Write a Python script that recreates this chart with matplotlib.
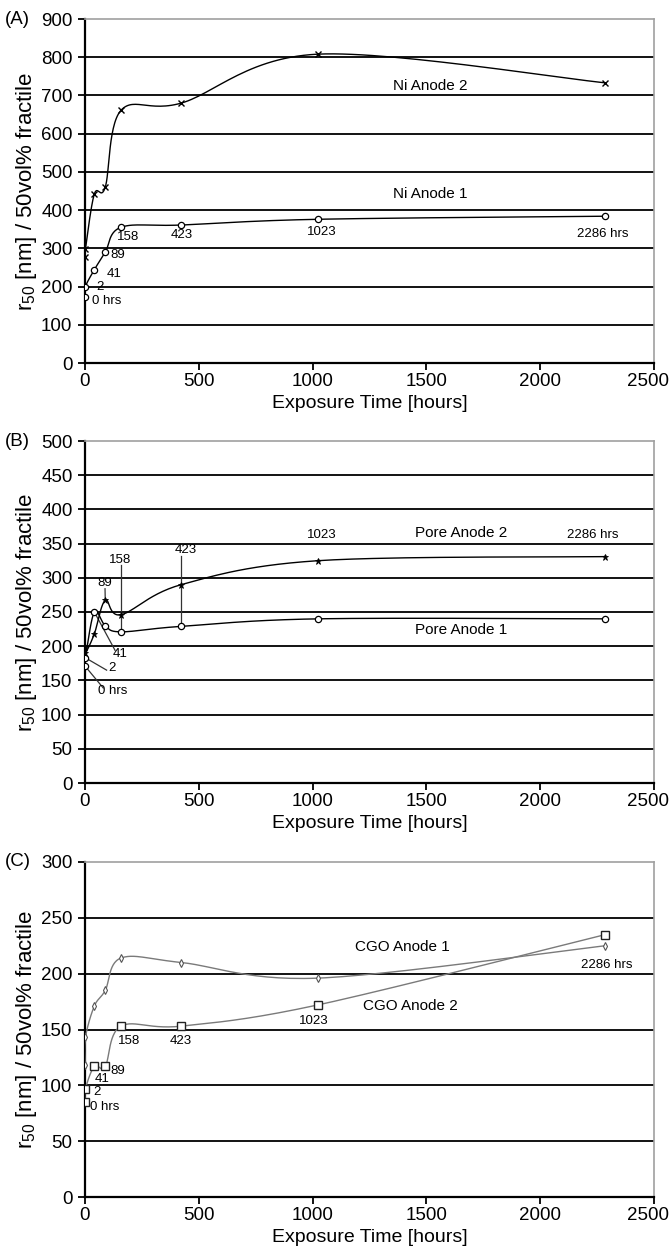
import numpy as np
import matplotlib
matplotlib.use("Agg")
import matplotlib.pyplot as plt
from matplotlib.transforms import ScaledTranslation

plt.rcParams['font.family'] = ['Liberation Sans', 'DejaVu Sans']
plt.rcParams['mathtext.fontset'] = 'custom'
plt.rcParams['mathtext.rm'] = 'Liberation Sans'
plt.rcParams['mathtext.it'] = 'Liberation Sans'

# ---------------- data ----------------
hours = [0, 2, 41, 89, 158, 423, 1023, 2286]
hour_labels = ["0 hrs", "2", "41", "89", "158", "423", "1023", "2286 hrs"]

ni_anode1 = [172, 200, 244, 290, 355, 361, 376, 384]
ni_anode2 = [278, 298, 442, 460, 661, 680, 808, 733]

pore_anode1 = [171, 183, 250, 230, 221, 229, 240, 240]
pore_anode2 = [199, 190, 218, 267, 246, 290, 325, 331]

cgo_anode1 = [118, 143, 171, 185, 214, 210, 196, 225]
cgo_anode2 = [85, 97, 117, 117, 153, 153, 172, 235]

# label placements (data coords)
ni_lab_x = [30, 50, 95, 110, 139, 423, 1040, 2277]
ni_lab_y = [163, 200, 233, 283, 329, 334, 344, 338]

pore_lab_x = [121, 117, 154, 88, 154, 444, 1040, 2233]
pore_lab_y = [135, 168, 189, 292, 326, 341, 363, 363]
pore_lead_from = [(80, 139), (95, 165), (132, 194), (88, 284), (158, 318), (423, 332)]

cgo_lab_x = [24, 36, 44, 110, 146, 373, 1006, 2293]
cgo_lab_y = [81, 94, 106, 113, 140, 140, 158, 208]


def smooth(x, y, n=30):
    pts = np.column_stack([x, y]).astype(float)
    P = np.vstack([pts[0], pts, pts[-1]])
    out = []
    t = np.linspace(0, 1, n)[:, None]
    for i in range(1, len(P) - 2):
        p0, p1, p2, p3 = P[i - 1], P[i], P[i + 1], P[i + 2]
        c1 = p1 + (p2 - p0) / 6.0
        c2 = p2 - (p3 - p1) / 6.0
        b = (1 - t) ** 3 * p1 + 3 * (1 - t) ** 2 * t * c1 + 3 * (1 - t) * t ** 2 * c2 + t ** 3 * p2
        out.append(b)
    s = np.vstack(out)
    return s[:, 0], s[:, 1]


fig = plt.figure(figsize=(6.71, 12.6), dpi=100)
left = 85 / 671
width = 569 / 671
rects = [
    (left, 1 - 363 / 1260, width, (363 - 19) / 1260),
    (left, 1 - 783 / 1260, width, (783 - 441) / 1260),
    (left, 1 - 1197 / 1260, width, (1197 - 862) / 1260),
]
tops_px = [19, 441, 862]
ylims = [(0, 900, 100), (0, 500, 50), (0, 300, 50)]
panel_tags = ["(A)", "(B)", "(C)"]

TICK_FS = 13.5
LAB_FS = 14
YLAB_FS = 16
ANN_FS = 11
SMALL_FS = 9.5
ann_family = ['Liberation Sans']

axes = []
for rect, (ylo, yhi, ystep), tag, tpx in zip(rects, ylims, panel_tags, tops_px):
    ax = fig.add_axes(rect)
    ax.set_xlim(0, 2500)
    ax.set_ylim(ylo, yhi)
    ax.set_xticks(np.arange(0, 2501, 500))
    ax.set_yticks(np.arange(ylo, yhi + 1, ystep))
    for yv in np.arange(ylo + ystep, yhi, ystep):
        ax.axhline(yv, color='black', lw=1.3, zorder=1)
    for s in ['top', 'right']:
        ax.spines[s].set_color('#a0a0a0')
        ax.spines[s].set_linewidth(1.2)
    for s in ['left', 'bottom']:
        ax.spines[s].set_color('black')
        ax.spines[s].set_linewidth(1.6)
    ax.tick_params(direction='out', length=5, width=1.3, labelsize=TICK_FS)
    ax.tick_params(axis='y', pad=4)
    ax.tick_params(axis='x', pad=2)
    # keep last x tick label inside the canvas
    lbls = ax.get_xticklabels()
    lbls[-1].set_transform(lbls[-1].get_transform() + ScaledTranslation(-6 / 100, 0, fig.dpi_scale_trans))
    ax.set_xlabel("Exposure Time [hours]", fontsize=LAB_FS, labelpad=4)
    ax.set_ylabel(r"r$_{50}$ [nm] / 50vol% fractile", fontsize=YLAB_FS)
    ax.yaxis.set_label_coords(-46 / 569, 0.5)
    fig.text(5 / 671, 1 - tpx / 1260, tag, fontsize=TICK_FS, ha='left', va='center')
    axes.append(ax)

# ---------- Panel A ----------
ax = axes[0]
sx, sy = smooth(hours, ni_anode1)
ax.plot(sx, sy, color='black', lw=1.0, zorder=3)
ax.plot(hours, ni_anode1, ls='none', marker='o', ms=4.5, mfc='white', mec='black', mew=0.9, zorder=4)
sx, sy = smooth(hours, ni_anode2)
ax.plot(sx, sy, color='black', lw=1.0, zorder=3)
ax.plot(hours, ni_anode2, ls='none', marker='x', ms=5, mec='black', mew=1.0, zorder=4)
for lab, lx, ly in zip(hour_labels, ni_lab_x, ni_lab_y):
    ha = 'left' if lx < 400 else 'center'
    ax.text(lx, ly, lab, fontsize=SMALL_FS, family=ann_family, ha=ha, va='center', zorder=5)
ax.text(1352, 726, "Ni Anode 2", fontsize=ANN_FS, family=ann_family, ha='left', va='center')
ax.text(1352, 442, "Ni Anode 1", fontsize=ANN_FS, family=ann_family, ha='left', va='center')

# ---------- Panel B ----------
ax = axes[1]
sx, sy = smooth(hours, pore_anode1)
ax.plot(sx, sy, color='black', lw=1.0, zorder=3)
ax.plot(hours, pore_anode1, ls='none', marker='o', ms=4.5, mfc='white', mec='black', mew=0.9, zorder=4)
sx, sy = smooth(hours, pore_anode2)
ax.plot(sx, sy, color='black', lw=1.0, zorder=3)
ax.plot(hours, pore_anode2, ls='none', marker='*', ms=5, mfc='black', mec='black', mew=0.6, zorder=4)
lead_targets = [(hours[0], pore_anode1[0]), (hours[1], pore_anode1[1]), (hours[2], pore_anode1[2]),
                (hours[3], pore_anode2[3]), (hours[4], pore_anode1[4]), (hours[5], pore_anode1[5])]
for i, (lab, lx, ly) in enumerate(zip(hour_labels, pore_lab_x, pore_lab_y)):
    ax.text(lx, ly, lab, fontsize=SMALL_FS, family=ann_family, ha='center', va='center', zorder=5)
    if i < len(pore_lead_from):
        fx, fy = pore_lead_from[i]
        tx, ty = lead_targets[i]
        ax.plot([fx, tx], [fy, ty], color='#333333', lw=0.9, zorder=2)
ax.text(1450, 366, "Pore Anode 2", fontsize=ANN_FS, family=ann_family, ha='left', va='center')
ax.text(1450, 223, "Pore Anode 1", fontsize=ANN_FS, family=ann_family, ha='left', va='center')

# ---------- Panel C ----------
ax = axes[2]
gray = '#7a7a7a'
sx, sy = smooth(hours, cgo_anode1)
ax.plot(sx, sy, color=gray, lw=1.0, zorder=3)
ax.plot(hours, cgo_anode1, ls='none', marker='d', ms=4, mfc='white', mec='#555555', mew=0.8, zorder=4)
sx, sy = smooth(hours, cgo_anode2)
ax.plot(sx, sy, color=gray, lw=1.0, zorder=3)
ax.plot(hours, cgo_anode2, ls='none', marker='s', ms=5.5, mfc='white', mec='#222222', mew=1.0, zorder=4)
for lab, lx, ly in zip(hour_labels, cgo_lab_x, cgo_lab_y):
    ha = 'left' if lx < 400 else 'center'
    ax.text(lx, ly, lab, fontsize=SMALL_FS, family=ann_family, ha=ha, va='center', zorder=5)
ax.text(1186, 224, "CGO Anode 1", fontsize=ANN_FS, family=ann_family, ha='left', va='center')
ax.text(1222, 171, "CGO Anode 2", fontsize=ANN_FS, family=ann_family, ha='left', va='center')

fig.savefig("out.png", dpi=100)
